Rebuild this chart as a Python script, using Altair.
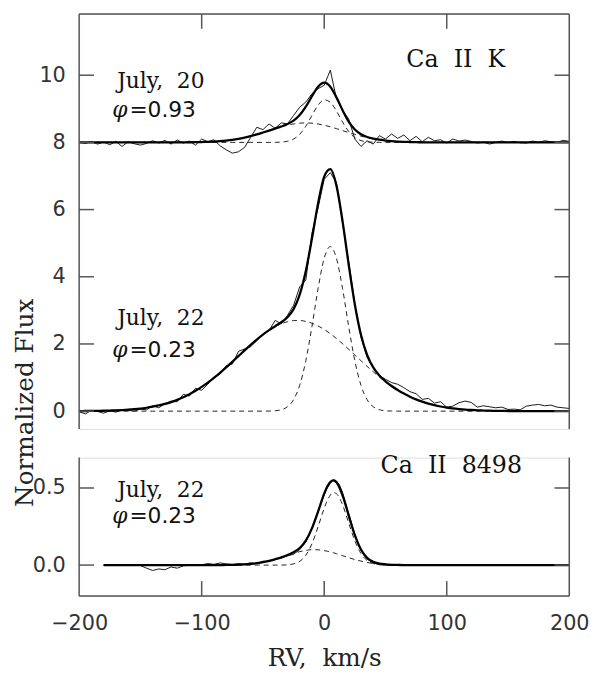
import altair as alt
import pandas as pd

# ---------------- data ----------------
RV = [-200, -195, -190, -185, -180, -175, -170, -165, -160, -155,
      -150, -145, -140, -135, -130, -125, -120, -115, -110, -105,
      -100, -95, -90, -85, -80, -75, -70, -65, -60, -55,
      -50, -45, -40, -35, -30, -25, -20, -15, -10, -5,
      0, 5, 10, 15, 20, 25, 30, 35, 40, 45,
      50, 55, 60, 65, 70, 75, 80, 85, 90, 95,
      100, 105, 110, 115, 120, 125, 130, 135, 140, 145,
      150, 155, 160, 165, 170, 175, 180, 185, 190, 195, 200]
RV_8498 = [-180, -175, -170, -165, -160, -155, -150, -145, -140, -135,
           -130, -125, -120, -115, -110, -105, -100, -95, -90, -85,
           -80, -75, -70, -65, -60, -55, -50, -45, -40, -35,
           -30, -25, -20, -15, -10, -5, 0, 2.5, 5, 7.5,
           10, 12.5, 15, 20, 25, 30, 35, 40, 45, 50,
           55, 60, 65, 70, 75, 80, 85, 90, 95, 100,
           105, 110, 115, 120, 125, 130, 135, 140, 145, 150,
           155, 160, 165, 170, 175, 180, 185, 190, 195, 200]

# Ca II K, July 20 (shifted by +8)
K20_OBS = [8.00, 7.97, 8.02, 7.95, 8.01, 7.93, 8.03, 7.88, 8.02, 7.96,
           7.92, 7.97, 8.05, 7.98, 8.06, 7.95, 8.07, 7.98, 8.04, 7.92,
           8.10, 8.02, 8.08, 7.90, 7.78, 7.68, 7.72, 7.85, 8.15, 8.45,
           8.38, 8.55, 8.42, 8.58, 8.55, 8.80, 9.05, 9.20, 9.45, 9.60,
           9.70, 10.15, 9.30, 8.95, 8.70, 8.10, 7.88, 8.05, 7.95, 8.20,
           8.10, 8.25, 8.12, 8.22, 8.05, 8.18, 8.02, 8.15, 8.05, 8.08,
           7.98, 8.10, 8.04, 8.07, 8.03, 7.98, 8.01, 7.95, 8.00, 8.04,
           8.00, 8.03, 7.99, 7.98, 8.04, 8.00, 8.05, 8.02, 8.00, 8.06, 8.03]
K20_FIT = [8.0] * 16 + [
           8.001, 8.002, 8.004, 8.006, 8.011, 8.017, 8.026, 8.038, 8.056, 8.078,
           8.108, 8.145, 8.188, 8.238, 8.294, 8.352, 8.412, 8.473, 8.546, 8.648,
           8.812, 9.062, 9.376, 9.657, 9.777, 9.659, 9.345, 8.957, 8.618, 8.382,
           8.241, 8.161, 8.112, 8.079, 8.056, 8.038, 8.026, 8.017, 8.011, 8.006,
           8.004, 8.002, 8.001] + [8.0] * 22
K20_BROAD = [8.0] * 16 + [
           8.001, 8.002, 8.004, 8.006, 8.011, 8.017, 8.026, 8.038, 8.056, 8.078,
           8.108, 8.145, 8.188, 8.238, 8.294, 8.352, 8.410, 8.464, 8.512, 8.549,
           8.572, 8.580, 8.572, 8.549, 8.512, 8.464, 8.410, 8.352, 8.294, 8.238,
           8.188, 8.145, 8.108, 8.078, 8.056, 8.038, 8.026, 8.017, 8.011, 8.006,
           8.004, 8.002, 8.001] + [8.0] * 22
K20_NARROW = [8.0] * 32 + [
           8.002, 8.009, 8.034, 8.099, 8.240, 8.482, 8.804, 9.108, 9.265, 9.195,
           8.935, 8.605, 8.324, 8.144, 8.053, 8.016, 8.004, 8.001] + [8.0] * 31

# Ca II K, July 22
K22_OBS = [-0.02, -0.08, 0.02, -0.01, -0.06, 0.01, -0.03, 0.05, 0.02, 0.00,
           0.06, 0.04, 0.16, 0.10, 0.22, 0.30, 0.28, 0.50, 0.45, 0.68,
           0.62, 0.80, 1.02, 1.10, 1.35, 1.40, 1.78, 1.85, 1.92, 2.10,
           2.30, 2.40, 2.70, 2.60, 2.85, 3.15, 3.70, 3.90, 5.30, 6.05,
           6.90, 7.10, 6.80, 5.60, 4.45, 3.20, 2.20, 1.60, 1.30, 1.05,
           0.95, 0.85, 0.80, 0.70, 0.58, 0.52, 0.35, 0.38, 0.24, 0.28,
           0.12, 0.15, 0.25, 0.30, 0.26, 0.12, 0.16, 0.13, 0.10, 0.12,
           0.05, 0.06, 0.04, 0.15, 0.18, 0.20, 0.16, 0.18, 0.12, 0.10, 0.08]
K22_FIT = [0.003, 0.004, 0.006, 0.008, 0.012, 0.017, 0.023, 0.032, 0.043, 0.058,
           0.077, 0.101, 0.132, 0.169, 0.215, 0.270, 0.336, 0.413, 0.503, 0.606,
           0.721, 0.849, 0.990, 1.141, 1.301, 1.468, 1.638, 1.808, 1.974, 2.132,
           2.279, 2.410, 2.529, 2.646, 2.794, 3.037, 3.469, 4.172, 5.135, 6.181,
           6.982, 7.205, 6.713, 5.651, 4.359, 3.173, 2.272, 1.676, 1.303, 1.062,
           0.889, 0.749, 0.629, 0.522, 0.430, 0.350, 0.282, 0.225, 0.177, 0.138,
           0.107, 0.082, 0.062, 0.046, 0.034, 0.025, 0.018, 0.013, 0.009, 0.006,
           0.004, 0.003, 0.002, 0.001, 0.001, 0.0, 0.0, 0.0, 0.0, 0.0, 0.0]
K22_BROAD = [0.003, 0.004, 0.006, 0.008, 0.012, 0.017, 0.023, 0.032, 0.043, 0.058,
             0.077, 0.101, 0.132, 0.169, 0.215, 0.270, 0.336, 0.413, 0.503, 0.606,
             0.721, 0.849, 0.990, 1.141, 1.301, 1.468, 1.638, 1.808, 1.974, 2.132,
             2.278, 2.407, 2.517, 2.603, 2.663, 2.695, 2.698, 2.671, 2.617, 2.536,
             2.431, 2.305, 2.162, 2.006, 1.841, 1.672, 1.501, 1.334, 1.172, 1.019,
             0.877, 0.746, 0.628, 0.522, 0.430, 0.350, 0.282, 0.225, 0.177, 0.138,
             0.107, 0.082, 0.062, 0.046, 0.034, 0.025, 0.018, 0.013, 0.009, 0.006,
             0.004, 0.003, 0.002, 0.001, 0.001, 0.0, 0.0, 0.0, 0.0, 0.0, 0.0]
K22_NARROW = [0.0] * 30 + [
              0.001, 0.003, 0.012, 0.043, 0.131, 0.342, 0.771, 1.501, 2.518, 3.645,
              4.551, 4.900, 4.551, 3.645, 2.518, 1.501, 0.771, 0.342, 0.131, 0.043,
              0.012, 0.003, 0.001] + [0.0] * 28

# Ca II 8498, July 22
C85_OBS = [0.000, 0.002, 0.000, -0.002, 0.001, 0.000, -0.003, -0.020, -0.035, -0.025,
           -0.030, -0.012, -0.020, -0.005, 0.000, -0.002, 0.002, 0.010, 0.005, 0.014,
           0.008, 0.004, 0.010, 0.006, 0.015, 0.010, 0.025, 0.022, 0.040, 0.045,
           0.060, 0.070, 0.100, 0.150, 0.240, 0.350, 0.455, 0.500, 0.530, 0.555,
           0.545, 0.520, 0.470, 0.335, 0.200, 0.095, 0.040, 0.015, 0.003] + [0.0] * 31
C85_FIT = [0.0] * 20 + [
           0.001, 0.001, 0.003, 0.005, 0.008, 0.012, 0.019, 0.027, 0.038, 0.050,
           0.065, 0.084, 0.111, 0.159, 0.238, 0.347, 0.463, 0.509, 0.539, 0.550,
           0.537, 0.502, 0.452, 0.321, 0.194, 0.101, 0.047, 0.021, 0.010, 0.005,
           0.002, 0.001] + [0.0] * 28
C85_BROAD = [0.0] * 20 + [
             0.001, 0.001, 0.003, 0.005, 0.008, 0.012, 0.019, 0.027, 0.038, 0.050,
             0.063, 0.076, 0.087, 0.095, 0.100, 0.099, 0.094, 0.090, 0.085, 0.080,
             0.074, 0.067, 0.061, 0.048, 0.036, 0.026, 0.017, 0.011, 0.007, 0.004,
             0.002, 0.001] + [0.0] * 28
C85_NARROW = [0.0] * 30 + [
              0.002, 0.008, 0.024, 0.064, 0.138, 0.248, 0.369, 0.419, 0.454, 0.470,
              0.463, 0.435, 0.391, 0.273, 0.158, 0.075, 0.030, 0.010, 0.003, 0.001] + [0.0] * 30

# tick values
X_TICKS = [-100, 0, 100]
X_LABELS = [-200, -100, 0, 100, 200]
Y_TICKS_TOP = [0, 2, 4, 6, 8, 10]
Y_TICKS_BOT = [0.0, 0.5]

NB = "\u00a0"
# annotations: (text, rv, flux)
TOP_SERIF = [("July," + NB * 2 + "20", -169, 9.62), ("July," + NB * 2 + "22", -169, 2.56)]
TOP_BIG = [("Ca" + NB * 2 + "II" + NB * 2 + "K", 67, 10.24)]
TOP_PHI = [("φ", -173, 8.76), ("φ", -173, 1.62)]
TOP_SANS = [("=0.93", -159, 8.76), ("=0.23", -159, 1.62)]
BOT_SERIF = [("July," + NB * 2 + "22", -169, 0.44)]
BOT_BIG = [("Ca" + NB * 2 + "II" + NB * 2 + "8498", 46, 0.60)]
BOT_PHI = [("φ", -173, 0.27)]
BOT_SANS = [("=0.23", -159, 0.27)]

# ---------------- build tables ----------------
def long_table(x, series):
    rows = []
    for name, (vals, kind) in series.items():
        assert len(vals) == len(x), (name, len(vals), len(x))
        for xv, yv in zip(x, vals):
            rows.append({"rv": xv, "flux": yv, "series": name, "kind": kind})
    return pd.DataFrame(rows)

top_df = long_table(RV, {"o20": (K20_OBS, "obs"), "f20": (K20_FIT, "fit"),
                         "b20": (K20_BROAD, "comp"), "n20": (K20_NARROW, "comp"),
                         "o22": (K22_OBS, "obs"), "f22": (K22_FIT, "fit"),
                         "b22": (K22_BROAD, "comp"), "n22": (K22_NARROW, "comp")})
bot_df = long_table(RV_8498, {"o85": (C85_OBS, "obs"), "f85": (C85_FIT, "fit"),
                              "b85": (C85_BROAD, "comp"), "n85": (C85_NARROW, "comp")})

def text_df(items):
    return pd.DataFrame([{"text": t, "rv": x, "flux": y} for t, x, y in items])

W = 496
H_TOP = 420
H_BOT = 140
FRAME = "#555555"
SERIF = "DejaVu Serif"
SANS = "DejaVu Sans"

x_scale = alt.Scale(domain=[-200, 200], nice=False, zero=False)
y_top_scale = alt.Scale(domain=[-0.53, 11.824], nice=False, zero=False)
y_bot_scale = alt.Scale(domain=[-0.2, 0.697], nice=False, zero=False)

y_top_axis = alt.Axis(values=Y_TICKS_TOP, format="d", domain=False, ticks=False, grid=False,
                      labelPadding=14, labelFont=SANS, labelFontSize=21, labelColor="#333333",
                      title="Normalized Flux", titleFont=SERIF, titleFontSize=25,
                      titleFontWeight="normal", titleColor="#222222", titleAngle=270,
                      titleAlign="center", titleBaseline="alphabetic", titleX=-47, titleY=393)
y_bot_axis = alt.Axis(values=Y_TICKS_BOT, format=".1f", domain=False, ticks=False, grid=False,
                      labelPadding=14, labelFont=SANS, labelFontSize=21, labelColor="#333333",
                      title=None)
x_bot_axis = alt.Axis(values=X_LABELS, format="d", domain=False, ticks=False, grid=False,
                      labelPadding=17, labelFlush=False, labelOverlap=False,
                      labelFont=SANS, labelFontSize=21, labelColor="#333333",
                      title="RV," + NB * 2 + "km/s", titleFont=SERIF, titleFontSize=25,
                      titleFontWeight="normal", titleColor="#222222",
                      titleBaseline="alphabetic", titleY=70)


def panel(df, height, y_scale, y_axis, x_axis, y_ticks, serif, big, phi, sans, frame_top):
    xenc = alt.X("rv:Q", scale=x_scale, axis=x_axis)
    yenc = alt.Y("flux:Q", scale=y_scale, axis=y_axis)
    base = alt.Chart(df)
    comp = base.transform_filter("datum.kind == 'comp'").mark_line(
        color="#222222", strokeWidth=1, strokeDash=[5, 4], interpolate="monotone"
    ).encode(x=xenc, y=yenc, detail="series:N")
    obs = base.transform_filter("datum.kind == 'obs'").mark_line(
        color="black", strokeWidth=0.9
    ).encode(x=xenc, y=yenc, detail="series:N")
    fit = base.transform_filter("datum.kind == 'fit'").mark_line(
        color="black", strokeWidth=2.3, interpolate="monotone"
    ).encode(x=xenc, y=yenc, detail="series:N")

    one = pd.DataFrame({"k": [0]})
    left = alt.Chart(one).mark_rule(color=FRAME, strokeWidth=1.5).encode(
        x=alt.value(0), y=alt.value(0), y2=alt.value(height))
    right = alt.Chart(one).mark_rule(color=FRAME, strokeWidth=1.5).encode(
        x=alt.value(W), y=alt.value(0), y2=alt.value(height))
    edge_y = 0 if frame_top else height
    edge = alt.Chart(one).mark_rule(color=FRAME, strokeWidth=1.5).encode(
        x=alt.value(0), x2=alt.value(W), y=alt.value(edge_y))

    ydf = pd.DataFrame({"flux": y_ticks})
    lt = alt.Chart(ydf).mark_rule(color=FRAME, strokeWidth=1.5).encode(
        y=yenc, x=alt.value(0), x2=alt.value(15))
    rt = alt.Chart(ydf).mark_rule(color=FRAME, strokeWidth=1.5).encode(
        y=yenc, x=alt.value(W - 15), x2=alt.value(W))
    xdf = pd.DataFrame({"rv": X_TICKS})
    if frame_top:
        xt = alt.Chart(xdf).mark_rule(color=FRAME, strokeWidth=1.5).encode(
            x=xenc, y=alt.value(0), y2=alt.value(15))
    else:
        xt = alt.Chart(xdf).mark_rule(color=FRAME, strokeWidth=1.5).encode(
            x=xenc, y=alt.value(height - 15), y2=alt.value(height))

    t1 = alt.Chart(text_df(serif)).mark_text(
        font=SERIF, fontSize=22, align="left", baseline="alphabetic", color="#111111"
    ).encode(x=xenc, y=yenc, text="text:N")
    t1b = alt.Chart(text_df(big)).mark_text(
        font=SERIF, fontSize=24, align="left", baseline="alphabetic", color="#111111"
    ).encode(x=xenc, y=yenc, text="text:N")
    t2 = alt.Chart(text_df(phi)).mark_text(
        font=SERIF, fontSize=22, fontStyle="italic", align="left", baseline="alphabetic",
        color="#111111"
    ).encode(x=xenc, y=yenc, text="text:N")
    t3 = alt.Chart(text_df(sans)).mark_text(
        font=SANS, fontSize=22, align="left", baseline="alphabetic", color="#111111"
    ).encode(x=xenc, y=yenc, text="text:N")

    return alt.layer(obs, comp, fit, left, right, edge, lt, rt, xt, t1, t1b, t2, t3).properties(
        width=W, height=height)


top = panel(top_df, H_TOP, y_top_scale, y_top_axis, None, Y_TICKS_TOP,
            TOP_SERIF, TOP_BIG, TOP_PHI, TOP_SANS, True)
bottom = panel(bot_df, H_BOT, y_bot_scale, y_bot_axis, x_bot_axis, Y_TICKS_BOT,
               BOT_SERIF, BOT_BIG, BOT_PHI, BOT_SANS, False)

chart = alt.vconcat(top, bottom, spacing=29, bounds="flush").resolve_scale(
    x="independent", y="independent"
).properties(
    padding={"left": 4, "top": 0, "right": 0, "bottom": 0}
).configure_view(stroke=None).configure(background="white")

chart.save("out.html", embed_options={"renderer": "svg", "actions": False})
